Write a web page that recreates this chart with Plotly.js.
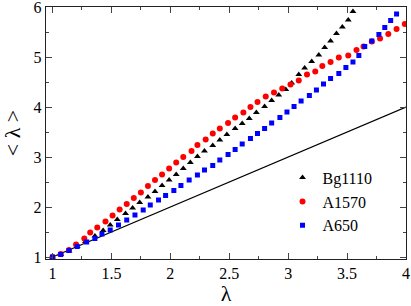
<!DOCTYPE html>
<html>
<head>
<meta charset="utf-8">
<script src="https://cdn.plot.ly/plotly-3.0.1.min.js"></script>
<style>html,body{margin:0;padding:0;background:#fff;}#chart{width:411px;height:306px;}</style>
</head>
<body>
<div id="chart"></div>
<script>
const refX = [1, 4];
const refY = [1, 4];

const bgName = "Bg1110";
const bgX = [1.0,1.07,1.14,1.21,1.28,1.36,1.43,1.49,1.55,1.62,1.68,1.74,1.81,1.87,1.93,1.99,2.05,2.11,2.17,2.23,2.29,2.36,2.42,2.48,2.55,2.61,2.67,2.73,2.80,2.86,2.92,2.98,3.03,3.09,3.14,3.20,3.26,3.31,3.36,3.41,3.46,3.51,3.55];
const bgY = [1.0,1.05,1.12,1.21,1.31,1.42,1.53,1.64,1.75,1.87,1.98,2.09,2.2,2.31,2.43,2.54,2.65,2.77,2.89,3.01,3.12,3.23,3.34,3.45,3.57,3.67,3.77,3.89,4.01,4.13,4.24,4.35,4.48,4.65,4.78,4.91,5.04,5.19,5.32,5.47,5.6,5.74,5.91];

const a1570Name = "A1570";
const a1570X = [1.0,1.07,1.14,1.20,1.27,1.32,1.38,1.45,1.51,1.57,1.63,1.69,1.75,1.81,1.87,1.93,1.99,2.05,2.11,2.18,2.23,2.30,2.36,2.42,2.49,2.55,2.62,2.68,2.74,2.81,2.88,2.95,3.02,3.09,3.16,3.23,3.29,3.36,3.43,3.51,3.58,3.64,3.71,3.78,3.85,3.92,3.99];
const a1570Y = [1.0,1.06,1.14,1.25,1.37,1.49,1.59,1.71,1.83,1.95,2.06,2.18,2.29,2.42,2.54,2.65,2.77,2.89,3.0,3.12,3.24,3.35,3.47,3.57,3.68,3.79,3.89,4.0,4.1,4.21,4.29,4.37,4.45,4.53,4.65,4.71,4.82,4.90,4.99,5.03,5.14,5.21,5.31,5.37,5.46,5.56,5.66];

const a650Name = "A650";
const a650X = [1.0,1.07,1.14,1.21,1.29,1.36,1.42,1.49,1.56,1.63,1.70,1.77,1.83,1.90,1.96,2.03,2.09,2.16,2.23,2.29,2.36,2.42,2.49,2.55,2.61,2.68,2.74,2.80,2.86,2.93,2.99,3.05,3.11,3.18,3.24,3.30,3.36,3.43,3.49,3.55,3.60,3.65,3.71,3.77,3.82,3.87,3.92];
const a650Y = [1.0,1.05,1.13,1.21,1.30,1.37,1.46,1.54,1.64,1.74,1.84,1.94,2.04,2.14,2.23,2.33,2.43,2.54,2.64,2.74,2.83,2.94,3.05,3.15,3.26,3.37,3.47,3.57,3.68,3.79,3.9,4.01,4.12,4.23,4.34,4.46,4.57,4.67,4.79,4.9,5.03,5.21,5.32,5.45,5.59,5.73,5.86];

const xTitle = "λ";
const yTitle = "< λ >";
const xTicks = [1, 1.5, 2, 2.5, 3, 3.5, 4];
const xTickText = ["1","1.5","2","2.5","3","3.5","4"];
const yTicks = [1, 2, 3, 4, 5, 6];
const yTickText = ["1","2","3","4","5","6"];

const FONT = "Liberation Serif";

const traces = [
  {x: refX, y: refY, mode: "lines", line: {color: "#000", width: 1.3}, showlegend: false, hoverinfo: "skip"},
  {x: bgX, y: bgY, mode: "markers", name: bgName, marker: {symbol: "triangle-up", size: 6, color: "#000"}},
  {x: a1570X, y: a1570Y, mode: "markers", name: a1570Name, marker: {symbol: "circle", size: 6, color: "#ff0000"}},
  {x: a650X, y: a650Y, mode: "markers", name: a650Name, marker: {symbol: "square", size: 5, color: "#0000ff"}}
];

function axis(extra) {
  return Object.assign({
    showgrid: false, zeroline: false, showline: true, linecolor: "#222", linewidth: 1.2,
    mirror: "ticks", ticks: "inside", ticklen: 6, tickwidth: 1, tickcolor: "#444",
    ticklabeloverflow: "allow", automargin: false,
    tickfont: {family: FONT, size: 16, color: "#000"}
  }, extra);
}

const layout = {
  width: 411, height: 306,
  margin: {l: 46, r: 5, t: 7, b: 47},
  paper_bgcolor: "#fff", plot_bgcolor: "#fff",
  font: {family: FONT, size: 16, color: "#000"},
  xaxis: axis({
    range: [0.945, 4.0001], tickmode: "array", tickvals: xTicks, ticktext: xTickText,
    minor: {dtick: 0.25, tick0: 1, ticks: "inside", ticklen: 3, tickcolor: "#444"},
    title: {text: xTitle, font: {family: FONT, size: 22}}
  }),
  yaxis: axis({
    range: [0.96, 6.0001], tickmode: "array", tickvals: yTicks, ticktext: yTickText,
    minor: {dtick: 0.5, tick0: 1, ticks: "inside", ticklen: 3, tickcolor: "#444"},
    title: {text: yTitle, font: {family: FONT, size: 22}}
  }),
  legend: {x: 0.657, y: 0.39, xanchor: "left", yanchor: "top", bgcolor: "rgba(0,0,0,0)",
    font: {family: FONT, size: 16, color: "#000"}, tracegroupgap: 0, itemwidth: 30},
  showlegend: true
};

Plotly.newPlot("chart", traces, layout, {staticPlot: true, displayModeBar: false});
</script>
</body>
</html>
